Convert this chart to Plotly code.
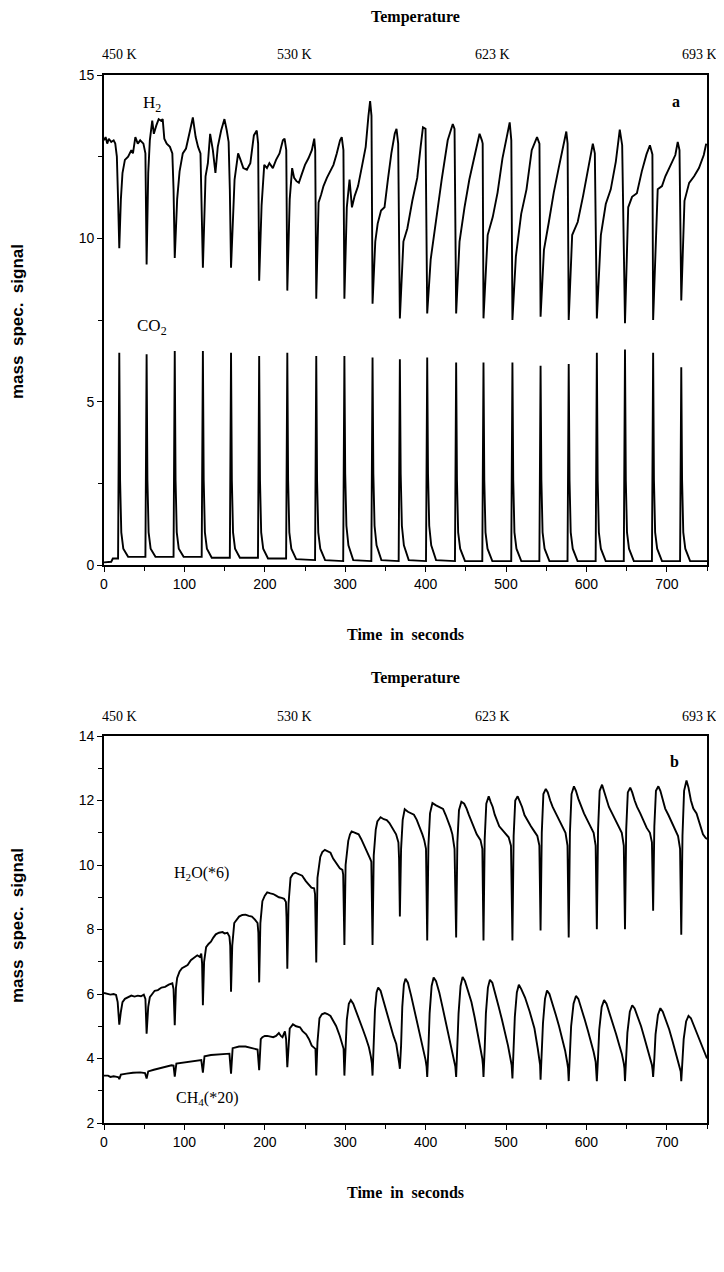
import plotly.graph_objs as go

# ---- data (time in s, signal in a.u.) ----
h2 = [
    (0, 13.0), (2, 13.1), (4, 12.9), (6, 13.05), (9, 12.95), (12, 13.0), (14, 12.9), (16, 12.5), (17.5, 11.2), (19, 9.7),
    (21, 11.2), (23, 12.0), (26, 12.4), (30, 12.5), (34, 12.7), (36, 12.6), (39, 13.1), (42, 12.9), (45, 13.0), (49, 12.9), (51.5, 12.6), (53, 9.2),
    (55, 12.0), (57, 13.0), (60, 13.6), (62, 13.2), (65, 13.45), (68, 13.65), (71, 13.6), (73, 13.65), (75, 13.05), (78, 12.9), (82, 12.8), (85, 12.6), (86.5, 11.5), (88, 9.4),
    (91, 11.2), (94, 12.05), (98, 12.6), (102, 12.75), (107, 13.3), (110.5, 13.7), (114, 13.1), (117, 12.8), (120, 12.6), (121.5, 10.8), (123, 9.1),
    (126.3, 11.9), (129.2, 12.3), (132, 13.2), (135.4, 12.7), (138.6, 12.0), (141.5, 12.8), (145.7, 13.3), (149.8, 13.65), (152.7, 13.3), (155, 12.95), (156.5, 11.5), (158, 9.1),
    (162.4, 11.8), (166.8, 12.6), (169.8, 12.4), (173.3, 12.15), (177.7, 12.1), (182, 12.3), (186.4, 13.15), (190, 13.3), (191.7, 12.9), (193, 8.7),
    (196, 11.0), (199.3, 12.25), (202.7, 12.15), (205.7, 12.3), (210, 12.15), (214, 12.4), (218.3, 12.6), (222.5, 13.0), (224.6, 13.05), (226.7, 12.7), (228, 8.4),
    (231, 11.2), (234, 12.15), (236.5, 11.85), (239.4, 11.75), (242.4, 11.7), (245.8, 11.95), (250, 12.25), (254.3, 12.45), (258.5, 12.7), (261.5, 13.05), (262.7, 12.7), (264, 8.15),
    (266.9, 11.1), (270.2, 11.35), (273, 11.6), (277.2, 11.85), (281.3, 12.05), (285.4, 12.25), (289.5, 12.6), (293.6, 13.0), (295.7, 13.1), (297.8, 12.7), (299, 8.15),
    (302, 10.95), (305.4, 11.8), (308.4, 10.95), (311.8, 11.3), (316, 11.6), (321.2, 12.25), (325.5, 12.8), (328.9, 13.75), (331, 14.2), (332.7, 13.75), (334, 8.0),
    (337.4, 9.9), (340.4, 10.45), (344.6, 10.85), (348.9, 10.95), (353.1, 11.8), (357.4, 12.6), (361.6, 13.2), (363.8, 13.35), (365.9, 12.9), (368, 7.55),
    (372.4, 9.9), (377.3, 10.3), (383.5, 11.15), (389.6, 11.85), (393.8, 12.8), (396.7, 13.4), (399.9, 13.35), (402, 7.7),
    (406.3, 9.35), (412.6, 10.5), (420, 11.8), (427.5, 13.0), (433.8, 13.5), (436, 13.35), (438, 7.7),
    (442.2, 9.9), (448.4, 10.95), (454.4, 11.8), (460.9, 12.55), (467.1, 13.2), (470, 13.0), (471, 12.9), (472, 7.55),
    (477.2, 10.1), (483.5, 10.65), (489.5, 11.4), (495.6, 12.45), (501.7, 13.2), (504.6, 13.55), (506.6, 13.0), (508, 7.5),
    (512.3, 9.45), (518.9, 10.75), (525.5, 11.5), (532, 12.7), (538.6, 13.1), (541.6, 12.9), (543, 7.6),
    (547.2, 9.65), (553.3, 10.5), (559.4, 11.4), (565.5, 12.15), (571.8, 12.9), (575, 13.27), (576.6, 12.9), (578, 7.5),
    (582.3, 10.1), (589.2, 10.5), (595.9, 11.3), (602.6, 12.15), (608, 12.9), (610.5, 12.6), (613, 7.55),
    (618, 10.1), (624.1, 11.05), (630.3, 11.5), (636.6, 12.35), (641.5, 13.33), (644.5, 12.85), (648, 7.4),
    (652, 10.95), (656.8, 11.27), (662.8, 11.38), (668.9, 12.05), (674.7, 12.57), (679, 12.85), (682.1, 12.57), (683, 7.5),
    (688.7, 11.5), (694, 11.6), (698.2, 11.9), (704.9, 12.25), (710.6, 12.55), (713.6, 12.95), (715.8, 12.7), (718, 8.1),
    (722, 11.15), (727.8, 11.7), (734, 11.9), (740, 12.15), (746, 12.55), (749, 12.9),
]

co2 = [
    (0, 0.08), (9, 0.1), (11, 0.2),
    (17.5, 0.2), (19, 6.5), (20, 2.6), (21.5, 1.0), (24, 0.5), (30, 0.25),
    (51.5, 0.25), (53, 6.45), (54, 2.6), (55.5, 1.0), (58, 0.5), (64, 0.25),
    (86.5, 0.25), (88, 6.55), (89, 2.6), (90.5, 1.0), (93, 0.5), (99, 0.25),
    (121.5, 0.25), (123, 6.55), (124, 2.6), (125.5, 1.0), (128, 0.5), (134, 0.22),
    (156.5, 0.22), (158, 6.5), (159, 2.6), (160.5, 1.0), (163, 0.5), (169, 0.22),
    (191.5, 0.22), (193, 6.4), (194, 2.6), (195.5, 1.0), (198, 0.5), (204, 0.2),
    (226.5, 0.2), (228, 6.5), (229, 2.6), (230.5, 1.0), (233, 0.5), (239, 0.18),
    (262.5, 0.15), (264, 6.4), (265, 2.6), (266.5, 1.0), (269, 0.5), (275, 0.15),
    (297.5, 0.12), (299, 6.4), (300, 2.8), (301.5, 1.2), (304, 0.6), (310, 0.15),
    (332.5, 0.12), (334, 6.35), (335, 2.8), (336.5, 1.2), (339, 0.6), (345, 0.15),
    (366.5, 0.12), (368, 6.3), (369, 2.8), (370.5, 1.2), (373, 0.6), (379, 0.15),
    (400.5, 0.12), (402, 6.35), (403, 2.8), (404.5, 1.2), (407, 0.6), (413, 0.15),
    (436.5, 0.12), (438, 6.2), (439, 2.6), (440.5, 1.0), (443, 0.5), (449, 0.12),
    (470.5, 0.12), (472, 6.2), (473, 2.6), (474.5, 1.0), (477, 0.5), (483, 0.12),
    (506.5, 0.12), (508, 6.2), (509, 2.6), (510.5, 1.0), (513, 0.5), (519, 0.12),
    (541.5, 0.12), (543, 6.1), (544, 2.6), (545.5, 1.0), (548, 0.5), (554, 0.12),
    (576.5, 0.12), (578, 6.15), (579, 2.6), (580.5, 1.0), (583, 0.5), (589, 0.12),
    (611.5, 0.12), (613, 6.5), (614, 2.6), (615.5, 1.0), (618, 0.5), (624, 0.12),
    (646.5, 0.12), (648, 6.6), (649, 2.6), (650.5, 1.0), (653, 0.5), (659, 0.12),
    (681.5, 0.12), (683, 6.5), (684, 2.6), (685.5, 1.0), (688, 0.5), (694, 0.12),
    (716.5, 0.12), (718, 6.05), (719, 2.6), (720.5, 1.0), (723, 0.5), (729, 0.12),
    (750, 0.12),
]

h2o = [
    (0, 6.03), (4, 6.0), (8, 5.98), (12, 6.0), (15, 5.97), (17, 5.75), (19, 5.05),
    (21, 5.45), (23, 5.75), (26, 5.85), (30, 5.9), (34, 5.95), (38, 5.92), (42, 5.95), (46, 5.93), (49.5, 5.98), (51.5, 5.85), (53, 4.77),
    (55, 5.6), (57, 5.9), (60, 6.0), (63, 6.1), (67, 6.12), (71.5, 6.2), (76, 6.22), (80.5, 6.29), (85, 6.33), (86.5, 6.15), (88, 5.03),
    (89.5, 6.2), (91, 6.5), (94, 6.7), (97, 6.8), (100, 6.85), (104, 6.9), (108, 7.05), (112, 7.12), (116, 7.2), (119, 7.15), (121, 7.25), (122, 6.95), (123, 5.65),
    (124.5, 7.0), (127, 7.45), (130, 7.55), (133, 7.62), (136, 7.75), (139, 7.85), (143, 7.9), (147.5, 7.92), (150, 7.88), (153.5, 7.9), (156, 7.78), (157, 7.5), (158, 6.07),
    (159.5, 7.5), (162, 8.2), (165, 8.3), (168, 8.4), (172, 8.45), (176, 8.46), (180, 8.42), (184, 8.4), (188, 8.3), (191, 8.2), (192, 7.9), (193, 6.36),
    (194.5, 8.2), (197, 8.88), (200, 9.05), (203, 9.15), (207, 9.12), (210.5, 9.1), (214, 9.05), (217.5, 9.0), (221, 8.98), (224, 8.95), (226.3, 8.85), (227, 8.4), (228, 6.78),
    (229.5, 8.8), (232, 9.6), (235, 9.72), (238, 9.76), (242, 9.72), (246.5, 9.67), (251, 9.5), (255.5, 9.37), (258, 9.3), (261.3, 9.28), (262.5, 9.1), (264, 6.98),
    (265.5, 9.6), (269, 10.25), (271.5, 10.4), (274.7, 10.47), (278, 10.42), (281.7, 10.38), (285, 10.2), (288.7, 10.07), (293.3, 9.9), (296.5, 9.85), (297.5, 9.7), (299, 7.52),
    (300.5, 10.0), (303.8, 10.75), (306, 10.95), (308, 11.04), (312, 11.0), (316.7, 10.95), (320, 10.8), (323.7, 10.6), (327, 10.45), (329.5, 10.33), (331, 10.2), (332.5, 10.1), (334, 7.52),
    (335.5, 10.3), (338, 11.1), (340, 11.35), (344, 11.48), (348, 11.42), (351.7, 11.39), (355, 11.3), (357.5, 11.2), (360, 11.1), (363.3, 10.95), (366.2, 10.7), (367, 10.2), (368, 8.4),
    (369.5, 10.5), (371.5, 11.4), (374, 11.73), (378, 11.65), (382, 11.6), (385.5, 11.56), (389, 11.4), (392.5, 11.2), (396, 10.95), (398.3, 10.77), (400.5, 10.5), (402, 7.66),
    (403.5, 10.6), (405.5, 11.6), (408.5, 11.92), (413, 11.85), (417, 11.8), (421.7, 11.74), (425, 11.55), (427.5, 11.39), (431, 11.15), (433.3, 10.95), (436, 10.5), (438, 7.75),
    (439.5, 10.7), (441.5, 11.7), (444.5, 11.96), (448, 11.9), (451, 11.75), (453.7, 11.56), (457, 11.35), (459.6, 11.2), (463.6, 10.95), (468.3, 10.77), (470.6, 10.5), (472, 7.66),
    (473.5, 10.8), (475.5, 11.9), (478.5, 12.13), (481, 11.95), (483.5, 11.8), (486, 11.56), (488.5, 11.4), (491.6, 11.2), (497.5, 11.03), (503.3, 10.86), (506.2, 10.6), (508, 7.66),
    (509.5, 10.9), (511.5, 12.0), (514.5, 12.13), (517, 12.0), (520, 11.8), (523, 11.55), (527, 11.35), (531, 11.2), (535, 11.05), (539, 10.9), (541.5, 10.6), (543, 7.97),
    (544.5, 11.0), (546.5, 12.2), (549.5, 12.36), (552, 12.25), (555, 12.0), (558, 11.8), (562, 11.6), (566, 11.4), (570, 11.2), (574, 11.0), (576.5, 10.6), (578, 7.75),
    (579.5, 11.0), (581.5, 12.2), (584.5, 12.44), (587, 12.3), (590, 12.05), (593, 11.85), (597, 11.6), (601, 11.4), (605, 11.2), (609, 11.0), (611.5, 10.6), (613, 8.01),
    (614.5, 11.1), (616.5, 12.3), (619.5, 12.49), (622, 12.3), (625, 12.0), (628, 11.8), (632, 11.6), (636, 11.4), (640, 11.2), (644, 11.0), (646.5, 10.6), (648, 8.01),
    (649.5, 11.1), (651.5, 12.25), (654.5, 12.4), (657, 12.25), (660, 12.0), (663, 11.8), (667, 11.6), (671, 11.35), (675, 11.15), (679, 11.0), (681.5, 10.7), (683, 8.58),
    (684.5, 11.2), (686.5, 12.3), (689.5, 12.44), (692, 12.3), (695, 12.0), (698, 11.75), (702, 11.55), (706, 11.35), (710, 11.1), (714, 10.9), (716.5, 10.5), (718, 7.84),
    (719.5, 10.9), (721.5, 12.3), (724.5, 12.62), (727, 12.4), (730, 12.0), (733, 11.75), (737, 11.6), (741, 11.3), (745, 10.95), (748, 10.85), (750, 10.8),
]

ch4 = [
    (0, 3.47), (5, 3.47), (8, 3.43), (12, 3.45), (16, 3.43), (18, 3.42), (19, 3.36), (21, 3.5), (28, 3.53), (36, 3.56), (45, 3.57), (51, 3.55), (53, 3.38),
    (55, 3.6), (62, 3.65), (70, 3.7), (78, 3.75), (84, 3.79), (86.5, 3.78), (88, 3.44),
    (90, 3.84), (98, 3.87), (106, 3.9), (114, 3.94), (121, 3.95), (123, 3.56),
    (125, 4.07), (133, 4.11), (142, 4.13), (150, 4.15), (156, 4.15), (158, 3.53),
    (160, 4.32), (168, 4.37), (176, 4.37), (184, 4.32), (191, 4.28), (193, 3.64),
    (195, 4.6), (197, 4.66), (200, 4.7), (203, 4.7), (207, 4.68), (210.5, 4.66), (214, 4.7), (217.5, 4.79), (220, 4.7), (222, 4.66), (225, 4.84), (226.5, 4.6), (228, 3.73),
    (229.5, 4.6), (231, 4.93), (235, 5.06), (239, 5.0), (243.8, 4.97), (247, 4.85), (251.4, 4.75), (255, 4.6), (258.4, 4.4), (261, 4.35), (263, 4.3), (264, 3.47),
    (265.5, 4.5), (268, 5.25), (271, 5.37), (274.7, 5.41), (278, 5.38), (281.7, 5.32), (285, 5.15), (288.7, 5.01), (293.3, 4.7), (296, 4.5), (298, 4.3), (299, 3.47),
    (300.5, 4.3), (302, 5.2), (304.5, 5.7), (307, 5.81), (310, 5.7), (314, 5.45), (318, 5.15), (322, 4.9), (326, 4.62), (329.5, 4.35), (332, 4.05), (333.2, 3.85), (334, 3.47),
    (335.5, 4.4), (337, 5.5), (339, 6.05), (341, 6.2), (344, 6.1), (348, 5.75), (352, 5.35), (356, 5.0), (360, 4.7), (363.5, 4.45), (366, 4.1), (367.2, 3.85), (368, 3.68),
    (369.5, 4.4), (371, 5.6), (373, 6.3), (375, 6.47), (378, 6.35), (382, 5.95), (386, 5.5), (390, 5.05), (394, 4.65), (397.5, 4.3), (400, 3.95), (401.2, 3.75), (402, 3.43),
    (403.5, 4.3), (405, 5.4), (407.5, 6.25), (410, 6.51), (413, 6.4), (417, 6.05), (421, 5.6), (425, 5.15), (429, 4.7), (432.5, 4.3), (435.5, 3.95), (437, 3.75), (438, 3.43),
    (439.5, 4.3), (441, 5.4), (443.5, 6.25), (446, 6.53), (449, 6.4), (453, 6.05), (457, 5.75), (461, 5.28), (465, 4.75), (468, 4.4), (470.5, 4.0), (471.3, 3.8), (472, 3.43),
    (473.5, 4.3), (475, 5.4), (477.5, 6.2), (480, 6.44), (483, 6.35), (487, 6.0), (491, 5.6), (495, 5.2), (499, 4.8), (502.5, 4.4), (505.5, 4.0), (507, 3.8), (508, 3.38),
    (509.5, 4.2), (511, 5.3), (513.5, 6.05), (516, 6.29), (519, 6.15), (523.7, 5.89), (529.5, 5.45), (535.4, 4.93), (539.5, 4.31), (541.8, 4.0), (542.4, 3.8), (543, 3.34),
    (544.5, 4.1), (546, 5.1), (548.5, 5.85), (551, 6.11), (554, 6.0), (558, 5.7), (562, 5.35), (566, 5.0), (570, 4.6), (573.5, 4.25), (576, 3.9), (577.2, 3.7), (578, 3.3),
    (579.5, 4.1), (581, 5.0), (584, 5.7), (587, 5.94), (590, 5.85), (594, 5.55), (598, 5.2), (602, 4.85), (606, 4.5), (609, 4.2), (611.5, 3.9), (612.3, 3.7), (613, 3.3),
    (614.5, 4.05), (616, 4.9), (619, 5.6), (622, 5.81), (625, 5.7), (629, 5.4), (633, 5.1), (637, 4.75), (641, 4.4), (644, 4.15), (646.5, 3.85), (647.3, 3.7), (648, 3.3),
    (649.5, 4.0), (651, 4.8), (654, 5.45), (657, 5.65), (660, 5.55), (664, 5.3), (668, 5.0), (672, 4.65), (676, 4.3), (679, 4.05), (681.5, 3.8), (682.3, 3.65), (683, 3.43),
    (684.5, 4.0), (686, 4.75), (689, 5.35), (692, 5.56), (695, 5.45), (699, 5.2), (703, 4.9), (707, 4.55), (711, 4.2), (714, 3.95), (716.5, 3.7), (717.3, 3.6), (718, 3.3),
    (719.5, 3.9), (721, 4.6), (724, 5.15), (727, 5.32), (730, 5.25), (734, 5.0), (738, 4.75), (742, 4.5), (746, 4.2), (750, 4.0),
]

temp_labels = ["450 K", "530 K", "623 K", "693 K"]
temp_times = [19, 237, 483, 741]
time_ticks = [0, 100, 200, 300, 400, 500, 600, 700]

# the page body keeps its default 8px margin, so the figure is drawn
# 8px in from the window's top-left corner and sized to fill the rest
OFF = 8
W, H = 724 - OFF, 1272 - OFF
SERIF = "Liberation Serif"
SANS = "Liberation Sans"


def px_x(sx):
    # window column -> paper fraction
    return (sx - OFF) / W


def px_y(sy):
    # window row -> paper fraction
    return 1 - (sy - OFF) / H


def line_trace(data, xa, ya):
    return go.Scatter(x=[p[0] for p in data], y=[p[1] for p in data],
                      xaxis=xa, yaxis=ya, mode="lines",
                      line=dict(color="black", width=1.9), hoverinfo="skip")


fig = go.Figure([line_trace(h2, "x", "y"), line_trace(co2, "x", "y"),
                 line_trace(h2o, "x2", "y2"), line_trace(ch4, "x2", "y2")])

xdom = [px_x(104), px_x(707)]
ax_common = dict(showline=True, linecolor="black", linewidth=1.6, mirror=True,
                 ticks="outside", ticklen=5, tickwidth=1.4, tickcolor="black",
                 showgrid=False, zeroline=False, automargin=False,
                 tickfont=dict(family=SANS, size=14, color="black"))

xa = dict(ax_common, range=[0, 750], tickvals=time_ticks,
          minor=dict(ticks="outside", dtick=50, ticklen=4, tickcolor="black"))

layout = go.Layout(
    width=W, height=H, autosize=False, margin=dict(l=0, r=0, t=0, b=0, pad=0),
    paper_bgcolor="white", plot_bgcolor="white", showlegend=False,
    xaxis=dict(xa, domain=xdom, anchor="y"),
    yaxis=dict(ax_common, domain=[px_y(565), px_y(75)], range=[0, 15], tickvals=[0, 5, 10, 15],
               minor=dict(ticks="outside", dtick=2.5, ticklen=4, tickcolor="black"), anchor="x"),
    xaxis2=dict(xa, domain=xdom, anchor="y2"),
    yaxis2=dict(ax_common, domain=[px_y(1123), px_y(736)], range=[2, 14], tickvals=[2, 4, 6, 8, 10, 12, 14],
                minor=dict(ticks="outside", dtick=1, ticklen=4, tickcolor="black"), anchor="x2"),
)
fig.update_layout(layout)


def note(text, x, y, xref, yref, font, **kw):
    return dict(text=text, x=x, y=y, xref=xref, yref=yref, showarrow=False,
                xanchor="center", yanchor="middle", font=font, **kw)


title_font = dict(family=SERIF, size=16, color="black")
temp_font = dict(family=SERIF, size=14, color="black")
label_font = dict(family=SERIF, size=17, color="black")

ann = []
for xr, top_title, temp_y, time_y, ymid in [("x", 17, 55, 634, 322), ("x2", 678, 716, 1192, 926)]:
    ann.append(note("<b>Temperature</b>", px_x(416), px_y(top_title), "paper", "paper", title_font))
    for lab, t in zip(temp_labels, temp_times):
        ann.append(note(lab, t, px_y(temp_y), xr, "paper", temp_font))
    ann.append(note("<b>Time  in  seconds</b>", px_x(405), px_y(time_y), "paper", "paper", title_font))
    ann.append(note("<b>mass  spec.  signal</b>", px_x(17), px_y(ymid), "paper", "paper",
                    dict(family=SANS, size=17, color="black"), textangle=-90))

# curve labels
ann += [
    note("H<sub>2</sub>", 60, 14.1, "x", "y", label_font),
    note("CO<sub>2</sub>", 60, 7.3, "x", "y", label_font),
    note("<b>a</b>", 712, 14.2, "x", "y", title_font),
    note("H<sub>2</sub>O(*6)", 121, 9.75, "x2", "y2", dict(family=SERIF, size=16, color="black")),
    note("CH<sub>4</sub>(*20)", 128, 2.75, "x2", "y2", dict(family=SERIF, size=16, color="black")),
    note("<b>b</b>", 710, 13.2, "x2", "y2", title_font),
]
fig.update_layout(annotations=ann)

fig.write_html("out.html")
